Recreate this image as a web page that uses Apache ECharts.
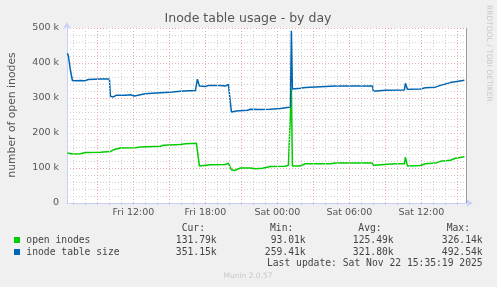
<!DOCTYPE html>
<html><head><meta charset="utf-8">
<script src="https://cdn.jsdelivr.net/npm/echarts@6/dist/echarts.min.js"></script>
<style>html,body{margin:0;padding:0;background:#f0f0f0}#c{width:497px;height:287px}</style>
</head><body><div id="c"></div>
<script>
// ---- data (values in thousands) ----
const openTimes = ['Fri 06:30','Fri 06:55','Fri 07:35','Fri 08:00','Fri 09:15','Fri 10:05','Fri 10:20','Fri 10:55','Fri 12:10','Fri 12:35','Fri 14:15','Fri 14:30','Fri 15:55','Fri 16:20','Fri 17:15','Fri 17:20','Fri 17:30','Fri 18:25','Fri 19:40','Fri 19:55','Fri 20:00','Fri 20:10','Fri 20:25','Fri 20:55','Fri 21:45','Fri 22:10','Fri 22:45','Fri 23:25','Sat 00:40','Sat 00:55','Sat 01:05','Sat 01:10','Sat 01:15','Sat 01:55','Sat 02:20','Sat 04:25','Sat 04:50','Sat 07:55','Sat 08:00','Sat 09:50','Sat 10:35','Sat 10:40','Sat 10:50','Sat 11:55','Sat 12:20','Sat 13:10','Sat 13:35','Sat 14:25','Sat 14:50','Sat 15:35'];
const openValues = [143,140,141,144,145,147,152,157,158,160,162,165,167,169,171,170,106,109,110,114,113,95,93,100,100,98,99,104,105,108,108,326,106,106,112,112,114,114,108,112,112,131,106,107,112,114,119,122,128,132];
const tableTimes = ['Fri 06:30','Fri 06:35','Fri 06:45','Fri 06:55','Fri 07:10','Fri 07:35','Fri 07:55','Fri 08:15','Fri 09:15','Fri 10:00','Fri 10:05','Fri 10:20','Fri 10:35','Fri 11:20','Fri 11:45','Fri 12:05','Fri 12:15','Fri 13:00','Fri 13:50','Fri 14:40','Fri 15:15','Fri 15:55','Fri 16:35','Fri 17:10','Fri 17:15','Fri 17:20','Fri 17:30','Fri 18:00','Fri 18:15','Fri 19:15','Fri 19:40','Fri 19:55','Fri 20:00','Fri 20:10','Fri 20:35','Fri 21:30','Fri 21:45','Fri 22:35','Fri 23:25','Sat 00:15','Sat 00:50','Sat 01:05','Sat 01:10','Sat 01:15','Sat 01:55','Sat 02:20','Sat 03:35','Sat 04:50','Sat 06:05','Sat 07:55','Sat 08:00','Sat 09:00','Sat 10:35','Sat 10:40','Sat 10:50','Sat 11:55','Sat 12:20','Sat 13:10','Sat 13:35','Sat 14:25','Sat 15:05','Sat 15:35'];
const tableValues = [428,420,380,350,349,350,349,353,354,354,305,303,308,308,309,306,310,312,314,316,317,319,321,321,320,354,334,333,336,336,334,339,338,260,263,265,268,267,268,270,273,274,492,326,328,330,332,334,334,334,319,322,323,342,325,326,329,331,336,344,348,351];
const xTickLabels = ['Fri 12:00','Fri 18:00','Sat 00:00','Sat 06:00','Sat 12:00'];
const xRange = ['Fri 06:28','Sat 15:48'];
const yTicks = [0,100,200,300,400,500];
const legendNames = ['open inodes','inode table size'];
const statHeaders = ['Cur:','Min:','Avg:','Max:'];
const openStats = ['131.79k','93.01k','125.49k','326.14k'];
const tableStats = ['351.15k','259.41k','321.80k','492.54k'];
const colors = ['#00cc00','#0066b3'];

function toH(s){const [d,t]=s.split(' ');const [h,m]=t.split(':').map(Number);return (d==='Sat'?24:0)+h+m/60;}
const xMin = toH(xRange[0]), xMax = toH(xRange[1]);
const labelH = xTickLabels.map(toH);
const hours = [];
for (let h = Math.ceil(xMin); h <= Math.floor(xMax); h++) hours.push(h);

const RED = '#e8a8a8', GRAY = '#d0d0d0', AXIS = '#c8d0f8', TXT = '#555';
const chart = echarts.init(document.getElementById('c'), null, {renderer:'canvas'});

const gridLines = hours.map(h => ({xAxis:h, lineStyle:{color: h%3===0?RED:GRAY, type:[1,2], width:1}}));
gridLines.push({xAxis: 39.75, lineStyle:{color:'#999', type:'solid', width:1}});

const mono = 'DejaVu Sans Mono';
const colRight = [216.7,305.7,393.7,482.7];
const headLeft = [181.7,270,358.3,446.7];
const graphics = [];
statHeaders.forEach((t,i)=>graphics.push({type:'text',x:headLeft[i],y:228,style:{text:t,font:'9.7px '+mono,fill:'#444',align:'left',verticalAlign:'middle'}}));
[openStats,tableStats].forEach((arr,r)=>{
  const y = 240 + r*12;
  graphics.push({type:'rect',shape:{x:14,y:y-3,width:6,height:6},style:{fill:colors[r]}});
  graphics.push({type:'text',x:26.3,y:y,style:{text:legendNames[r],font:'9.7px '+mono,fill:'#444',align:'left',verticalAlign:'middle'}});
  arr.forEach((t,i)=>graphics.push({type:'text',x:colRight[i],y:y,style:{text:t,font:'9.7px '+mono,fill:'#444',align:'right',verticalAlign:'middle'}}));
});
graphics.push({type:'text',x:482.7,y:263.5,style:{text:'Last update: Sat Nov 22 15:35:19 2025',font:'9.7px '+mono,fill:'#444',align:'right',verticalAlign:'middle'}});
graphics.push({type:'text',x:248,y:276.5,style:{text:'Munin 2.0.57',font:'7.5px DejaVu Sans',fill:'#c8c8c8',align:'center',verticalAlign:'middle'}});
graphics.push({type:'text',x:489,y:5,rotation:-Math.PI/2,style:{text:'RRDTOOL / TOBI OETIKER',font:'7.5px DejaVu Sans',fill:'#c8c8c8',align:'left',verticalAlign:'middle'}});
graphics.push({type:'text',x:248,y:19,style:{text:'Inode table usage - by day',font:'12.5px DejaVu Sans',fill:TXT,align:'center',verticalAlign:'middle'}});
graphics.push({type:'text',x:12,y:115,rotation:Math.PI/2,style:{text:'number of open inodes',font:'10.8px DejaVu Sans',fill:TXT,align:'center',verticalAlign:'middle'}});

chart.setOption({
  backgroundColor:'#f0f0f0',
  animation:false,
  grid:{left:67,right:30,top:28,bottom:84,show:true,backgroundColor:'#fff',borderWidth:0},
  xAxis:{type:'value',min:xMin,max:xMax,
    axisLine:{show:true,lineStyle:{color:AXIS,width:1},symbol:['none','arrow'],symbolSize:[6,7],symbolOffset:[0,6]},
    axisTick:{show:true,customValues:hours,length:2,inside:false,lineStyle:{color:GRAY}},
    axisLabel:{customValues:labelH,formatter:v=>{const i=labelH.findIndex(h=>Math.abs(h-v)<1e-6);return i>=0?xTickLabels[i]:'';},color:TXT,fontFamily:'DejaVu Sans',fontSize:9.5,margin:5},
    splitLine:{show:false}},
  yAxis:{type:'value',min:yTicks[0],max:yTicks[yTicks.length-1],interval:100,
    axisLine:{show:true,lineStyle:{color:AXIS,width:1},symbol:['none','arrow'],symbolSize:[6,7],symbolOffset:[0,6]},
    axisTick:{show:false},
    axisLabel:{formatter:v=>v===0?'0':v+' k',color:TXT,fontFamily:'DejaVu Sans',fontSize:9.5,margin:8},
    splitLine:{show:true,lineStyle:{color:RED,type:[1,2]}},
    minorTick:{show:false,splitNumber:5},
    minorSplitLine:{show:true,lineStyle:{color:GRAY,type:[1,2]}}},
  series:[
    {type:'line',data:[],silent:true,z:1,markLine:{silent:true,symbol:['none','none'],label:{show:false},animation:false,data:gridLines}},
    {name:legendNames[0],type:'line',z:3,data:openTimes.map((t,i)=>[toH(t),openValues[i]]),showSymbol:false,lineStyle:{color:colors[0],width:1.5},itemStyle:{color:colors[0]}},
    {name:legendNames[1],type:'line',z:4,data:tableTimes.map((t,i)=>[toH(t),tableValues[i]]),showSymbol:false,lineStyle:{color:colors[1],width:1.5},itemStyle:{color:colors[1]}}
  ],
  graphic:graphics
});
</script></body></html>
